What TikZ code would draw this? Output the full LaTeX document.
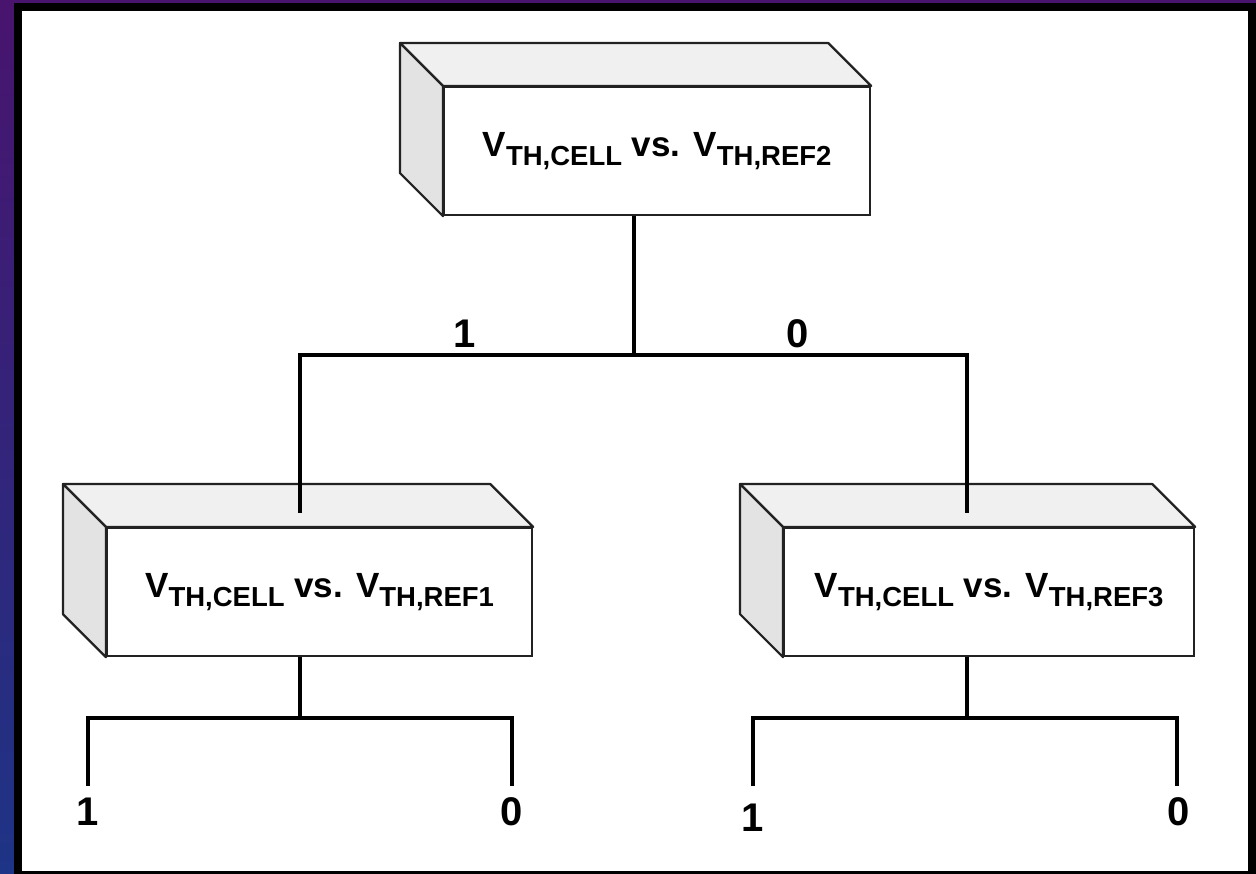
\documentclass[tikz,border=0pt]{standalone}
\usepackage{fontspec}
\setmainfont{Liberation Sans}
\usetikzlibrary{calc}

\definecolor{bgtop}{RGB}{72,20,110}
\definecolor{bgbot}{RGB}{30,52,134}
\definecolor{outline}{RGB}{34,34,34}
\definecolor{topfill}{RGB}{240,240,240}
\definecolor{sidefill}{RGB}{227,227,227}

\tikzset{
  wire/.style={line width=3.8pt, black},
  frontface/.style={draw=outline, line width=2.2pt, fill=white,
    minimum height=128pt, inner sep=0pt, anchor=north west},
  topface/.style={draw=outline, line width=2.2pt, fill=topfill, line join=round},
  sideface/.style={draw=outline, line width=2.2pt, fill=sidefill, line join=round},
  bit/.style={font=\fontsize{40}{40}\selectfont\bfseries, inner sep=0pt},
}

% big "V" with a lowered, smaller subscript
\newcommand\vsub[1]{V\raisebox{-8.5pt}{\fontsize{27.5}{27.5}\selectfont #1}}
\newcommand\compare[1]{\fontsize{35}{35}\selectfont\bfseries
  \vsub{TH,CELL} vs. \vsub{TH,#1}}

% top and left faces of a box drawn behind a front node
\newcommand\boxfaces[1]{%
  \draw[topface] (#1.north west) -- ++(-43,-43)
    -- ($(#1.north east)+(-43,-43)$) -- (#1.north east) -- cycle;
  \draw[sideface] (#1.north west) -- ++(-43,-43)
    -- ($(#1.south west)+(-43,-43)$) -- (#1.south west) -- cycle;
}

\begin{document}
\begin{tikzpicture}[x=1pt,y=-1pt]
  % frame
  \shade[top color=bgtop, bottom color=bgbot] (0,0) rectangle (1256,874);
  \fill[black] (14,3) rectangle (1256,874);
  \fill[white] (22,11) rectangle (1248,871);
  \useasboundingbox (0,0) rectangle (1256,874);

  % boxes
  \node[frontface, minimum width=426pt] (f2) at (443,86) {\raisebox{-4pt}{\compare{REF2}}};
  \boxfaces{f2}
  \node[frontface, minimum width=425pt] (f1) at (106,527) {\raisebox{-4pt}{\compare{REF1}}};
  \boxfaces{f1}
  \node[frontface, minimum width=410pt] (f3) at (783,527) {\raisebox{-4pt}{\compare{REF3}}};
  \boxfaces{f3}

  % junction points
  \coordinate (j2) at (634,355);
  \coordinate (e1) at (300,513);
  \coordinate (e3) at (967,513);
  \coordinate (j1) at (300,718);
  \coordinate (j3) at (967,718);
  \coordinate (a1) at (88,786);
  \coordinate (b1) at (512,786);
  \coordinate (a3) at (753,786);
  \coordinate (b3) at (1177,786);

  % first comparison splits into the two lower ones
  \draw[wire] (f2.south -| j2) -- (j2);
  \draw[wire] (e1) -- (e1 |- j2) -- (e3 |- j2) -- (e3);

  % lower comparisons split into the final bits
  \draw[wire] (f1.south -| j1) -- (j1);
  \draw[wire] (a1) -- (a1 |- j1) -- (b1 |- j1) -- (b1);
  \draw[wire] (f3.south -| j3) -- (j3);
  \draw[wire] (a3) -- (a3 |- j3) -- (b3 |- j3) -- (b3);

  % branch labels
  \node[bit] (t1) at (465,334) {1};
  \node[bit] (t0) at (798,334) {0};
  \node[bit] (l1) at (88,812) {1};
  \node[bit] (l0) at (512,812) {0};
  \node[bit] (r1) at (753,818) {1};
  \node[bit] (r0) at (1179,812) {0};
\end{tikzpicture}
\end{document}
